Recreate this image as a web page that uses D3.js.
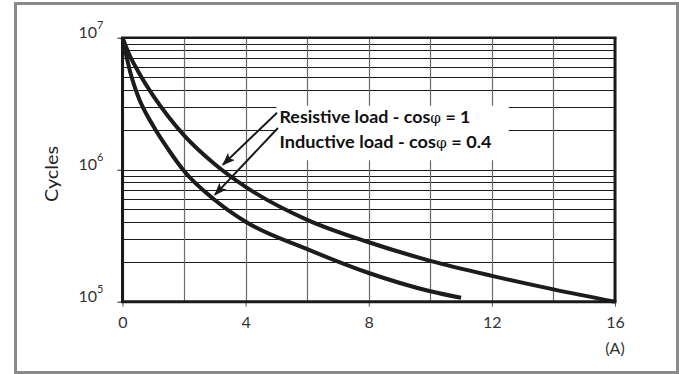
<!DOCTYPE html>
<html>
<head>
<meta charset="utf-8">
<script src="https://cdn.jsdelivr.net/npm/d3@7"></script>
<style>
  html, body { margin: 0; padding: 0; background: #fff; }
  svg { display: block; }
</style>
</head>
<body>
<div class="canvas"></div>
<script>
// ---- data ----
const amps = [0, 0.25, 0.5, 1, 1.5, 2, 3, 4, 6, 8, 10, 12, 14, 16];
const resistiveCycles = [1e7, 7.2e6, 5.6e6, 3.63e6, 2.51e6, 1.82e6, 1.1e6, 7.41e5, 4.17e5, 2.82e5, 2.04e5, 1.57e5, 1.24e5, 1.0e5];
const ampsInductive = [0, 0.25, 0.5, 1, 1.5, 2, 3, 4, 6, 8, 10, 11];
const inductiveCycles = [1e7, 5.5e6, 3.63e6, 2.14e6, 1.41e6, 9.77e5, 5.89e5, 4.03e5, 2.5e5, 1.65e5, 1.2e5, 1.07e5];
const xTickLabels = [0, 4, 8, 12, 16];
const xGrid = [0, 2, 4, 6, 8, 10, 12, 14, 16];
const yTickLabels = [1e5, 1e6, 1e7];
const seriesNames = ['Resistive load - cos', 'Inductive load - cos'];
const seriesSuffix = [' = 1', ' = 0.4'];

// chart dims
const dims = { width: 679, height: 374 };
const plot = { left: 122.5, right: 615, top: 37.7, bottom: 301.7 };
const font = 'Lato, "Open Sans", sans-serif';

const svg = d3.select('.canvas')
    .append('svg')
    .attr('width', dims.width)
    .attr('height', dims.height);

// outer grey frame
svg.append('rect')
    .attr('x', 15.5).attr('y', 3.5)
    .attr('width', 662).attr('height', 369)
    .attr('fill', 'none')
    .attr('stroke', '#8a8a8a')
    .attr('stroke-width', 3);

const x = d3.scaleLinear().domain([0, 16]).range([plot.left, plot.right]);
const y = d3.scaleLog().domain([1e5, 1e7]).range([plot.bottom, plot.top]);

// horizontal log grid (1..9 per decade)
svg.append('g')
    .selectAll('line')
    .data(y.ticks())
    .join('line')
    .attr('x1', plot.left).attr('x2', plot.right)
    .attr('y1', d => Math.round(y(d)) + 0.5)
    .attr('y2', d => Math.round(y(d)) + 0.5)
    .attr('stroke', '#1a1a1a')
    .attr('stroke-width', 1);

// vertical grid
svg.append('g')
    .selectAll('line')
    .data(xGrid)
    .join('line')
    .attr('x1', d => Math.round(x(d)) + 0.5)
    .attr('x2', d => Math.round(x(d)) + 0.5)
    .attr('y1', plot.top).attr('y2', plot.bottom)
    .attr('stroke', '#6a6a6a')
    .attr('stroke-width', 1.2);

// x axis (ticks + labels)
const xAxis = svg.append('g')
    .attr('transform', `translate(0, ${plot.bottom})`)
    .call(d3.axisBottom(x).tickValues(xTickLabels).tickSize(5).tickPadding(10).tickFormat(d3.format('d')));
xAxis.select('.domain').remove();
xAxis.selectAll('line').attr('stroke', '#555');
xAxis.selectAll('text')
    .attr('font-family', font)
    .attr('font-size', 16)
    .attr('fill', '#333');

// y axis (ticks + 10^n labels)
const yAxis = svg.append('g')
    .attr('transform', `translate(${plot.left}, 0)`)
    .call(d3.axisLeft(y).tickValues(yTickLabels).tickSize(5).tickPadding(14));
yAxis.select('.domain').remove();
yAxis.selectAll('line').attr('stroke', '#222');
yAxis.selectAll('text')
    .attr('font-family', font)
    .attr('font-size', 16)
    .attr('fill', '#333')
    .attr('dy', 0)
    .text('')
    .each(function(d) {
        const t = d3.select(this);
        t.append('tspan').text('10');
        t.append('tspan')
            .attr('font-size', 11)
            .attr('dy', -9)
            .text(Math.round(Math.log10(d)));
    });

// axis titles
svg.append('text')
    .attr('transform', `translate(58, 174) rotate(-90)`)
    .attr('text-anchor', 'middle')
    .attr('font-family', font)
    .attr('font-size', 18)
    .attr('fill', '#222')
    .attr('textLength', 56)
    .attr('lengthAdjust', 'spacingAndGlyphs')
    .text('Cycles');

svg.append('text')
    .attr('x', x(16)).attr('y', 354)
    .attr('text-anchor', 'middle')
    .attr('font-family', font)
    .attr('font-size', 16)
    .attr('fill', '#333')
    .text('(A)');

// the two curves
const line = d3.line()
    .x(d => x(d[0]))
    .y(d => y(d[1]))
    .curve(d3.curveMonotoneX);

const curves = [
    d3.zip(amps, resistiveCycles),
    d3.zip(ampsInductive, inductiveCycles)
];

svg.append('g')
    .selectAll('path')
    .data(curves)
    .join('path')
    .attr('d', line)
    .attr('fill', 'none')
    .attr('stroke', '#1c1c1c')
    .attr('stroke-width', 4)
    .attr('stroke-linecap', 'butt');

// plot frame
const frame = svg.append('g').attr('stroke', '#1a1a1a').attr('fill', 'none');
frame.append('line').attr('x1', plot.left - 1.5).attr('x2', plot.right + 1.5)
    .attr('y1', plot.top).attr('y2', plot.top).attr('stroke-width', 2.5);
frame.append('line').attr('x1', plot.left - 1.5).attr('x2', plot.right + 1.5)
    .attr('y1', plot.bottom).attr('y2', plot.bottom).attr('stroke-width', 3);
frame.append('line').attr('x1', plot.left).attr('x2', plot.left)
    .attr('y1', plot.top).attr('y2', plot.bottom).attr('stroke-width', 3);
frame.append('line').attr('x1', plot.right).attr('x2', plot.right)
    .attr('y1', plot.top).attr('y2', plot.bottom).attr('stroke-width', 3);

// label box + arrows (anchored in data units)
const labelPos = [[5.1, 2.24e6], [5.1, 1.45e6]];
const arrowFrom = [[5.02, 2.7e6], [5.05, 2.07e6]];
const arrowTo = [[3.26, 1.09e6], [3.0, 6.45e5]];

svg.append('rect')
    .attr('x', x(5.0)).attr('y', y(3.05e6))
    .attr('width', x(12.55) - x(5.0))
    .attr('height', y(1.18e6) - y(3.05e6))
    .attr('fill', '#fff');

svg.append('defs').append('marker')
    .attr('id', 'arrow')
    .attr('viewBox', '0 0 13 10')
    .attr('refX', 12).attr('refY', 5)
    .attr('markerWidth', 13).attr('markerHeight', 10)
    .attr('markerUnits', 'userSpaceOnUse')
    .attr('orient', 'auto')
    .append('path')
    .attr('d', 'M0,0 L13,5 L0,10 L3,5 Z')
    .attr('fill', '#1a1a1a');

svg.append('g')
    .selectAll('line')
    .data(d3.range(2))
    .join('line')
    .attr('x1', i => x(arrowFrom[i][0])).attr('y1', i => y(arrowFrom[i][1]))
    .attr('x2', i => x(arrowTo[i][0])).attr('y2', i => y(arrowTo[i][1]))
    .attr('stroke', '#1a1a1a')
    .attr('stroke-width', 2)
    .attr('marker-end', 'url(#arrow)');

const labelWidths = [191, 212];
svg.append('g')
    .selectAll('text')
    .data(d3.range(2))
    .join('text')
    .attr('x', i => x(labelPos[i][0]))
    .attr('y', i => y(labelPos[i][1]))
    .attr('font-family', 'Lato, "Liberation Sans", sans-serif')
    .attr('font-weight', 'bold')
    .attr('font-size', 17.5)
    .attr('fill', '#111')
    .attr('textLength', i => labelWidths[i])
    .attr('lengthAdjust', 'spacingAndGlyphs')
    .each(function(i) {
        const t = d3.select(this);
        t.append('tspan').text(seriesNames[i]);
        t.append('tspan').attr('font-family', '"DejaVu Serif", serif').attr('font-weight', 'normal').attr('font-size', 15).text('φ');
        t.append('tspan').text(seriesSuffix[i]);
    });
</script>
</body>
</html>
